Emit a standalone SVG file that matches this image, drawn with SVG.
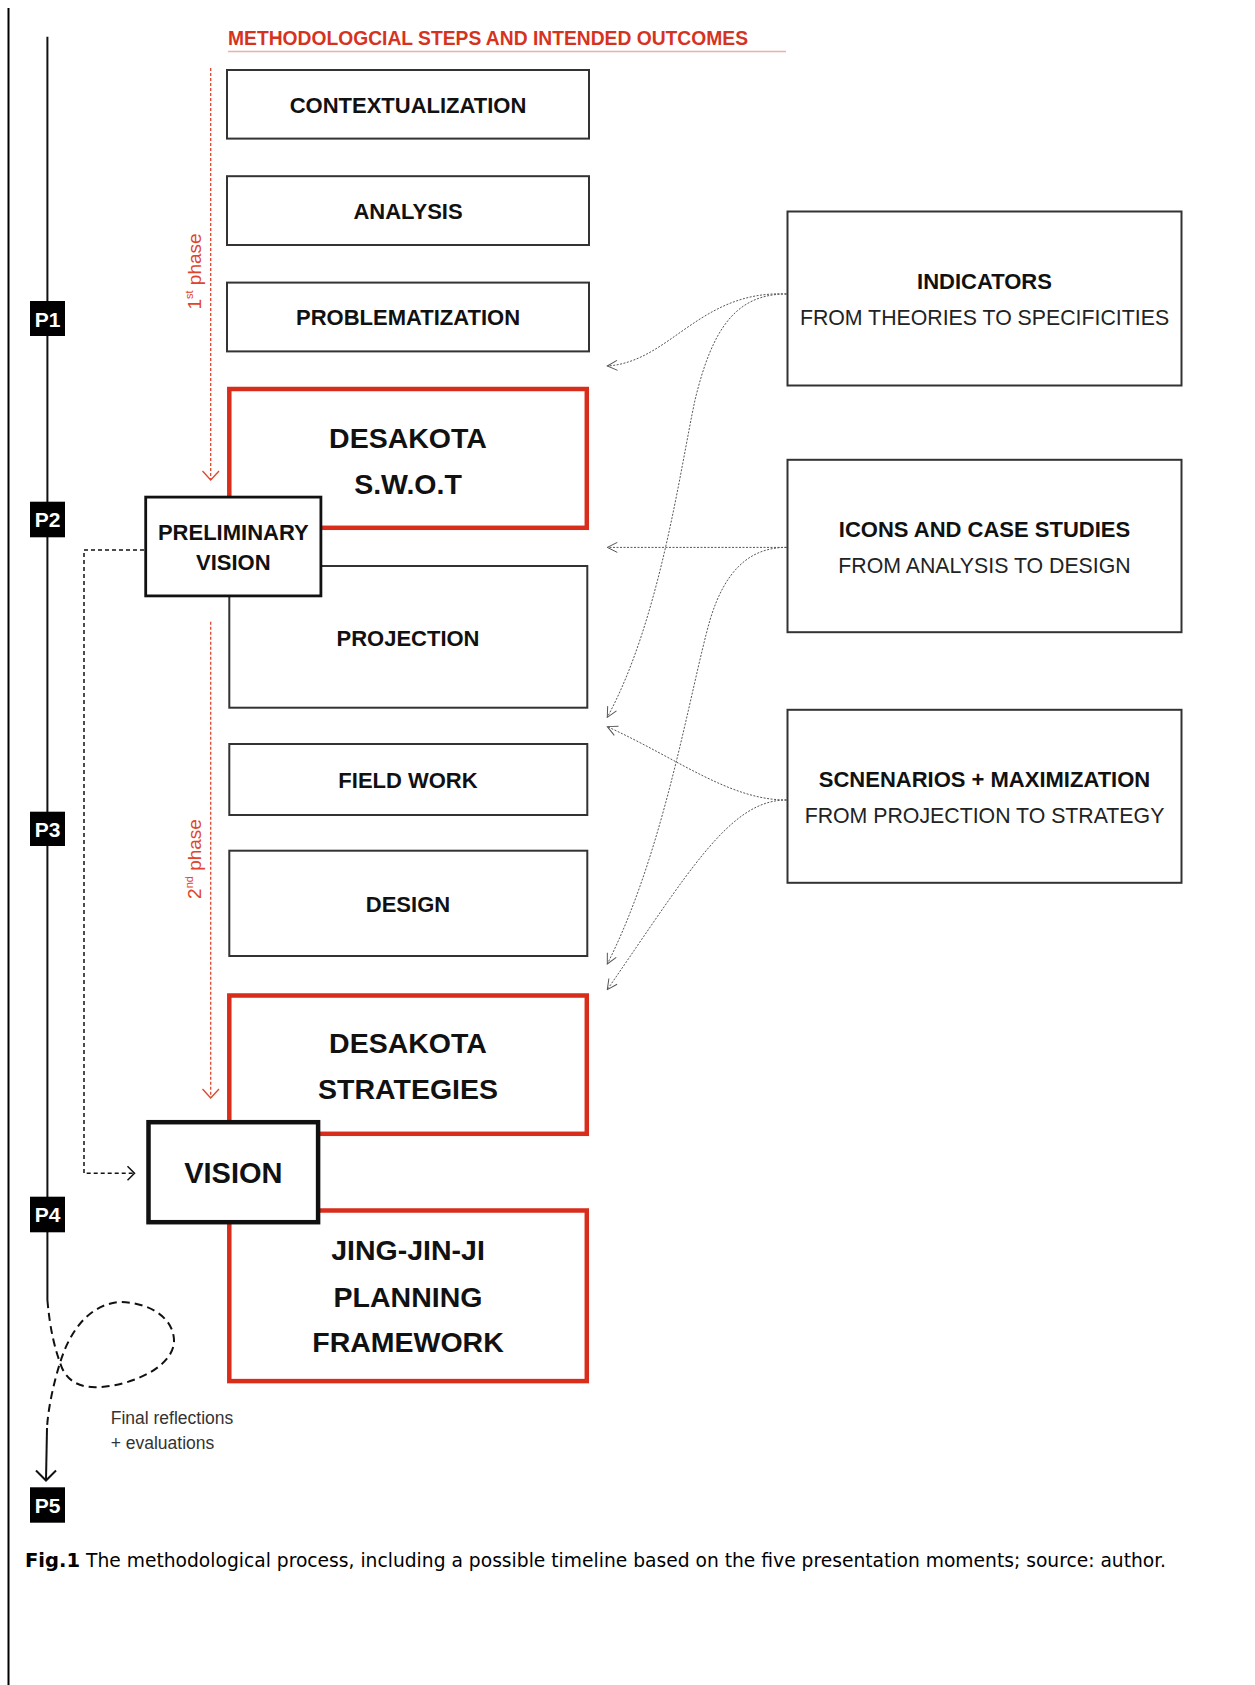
<svg xmlns="http://www.w3.org/2000/svg" width="1255" height="1685" viewBox="0 0 1255 1685">
<style>
.bx{fill:#fff;stroke:#333;stroke-width:2}
.rb{fill:#fff;stroke:#d92d1b;stroke-width:4.5}
.lt{font-family:"Liberation Sans",Arial,sans-serif;font-weight:bold;font-size:22px;fill:#111;text-anchor:middle}
.big{font-family:"Liberation Sans",Arial,sans-serif;font-weight:bold;font-size:28.5px;fill:#111;text-anchor:middle}
.rt{font-family:"Liberation Sans",Arial,sans-serif;font-weight:bold;font-size:22px;fill:#111;text-anchor:middle}
.rs{font-family:"Liberation Sans",Arial,sans-serif;font-size:21.3px;fill:#222;text-anchor:middle}
.pb{fill:#000}
.pt{font-family:"Liberation Sans",Arial,sans-serif;font-weight:bold;font-size:21px;fill:#fff;text-anchor:middle}
.ph{font-family:"Liberation Sans",Arial,sans-serif;font-size:19px;fill:#e0452b;text-anchor:middle}
.gc{fill:none;stroke:#555;stroke-width:1;stroke-dasharray:2 1.5}
.rd{fill:none;stroke:#e0452b;stroke-width:1.3;stroke-dasharray:3 2}
.kd{fill:none;stroke:#111;stroke-width:1.5;stroke-dasharray:4 3}
</style>
<defs>
<marker id="ga" viewBox="0 0 12 12" refX="11" refY="6" markerWidth="12" markerHeight="12" markerUnits="userSpaceOnUse" orient="auto">
<path d="M1,1 L11,6 L1,11" fill="none" stroke="#555" stroke-width="1"/>
</marker>
</defs>

<!-- page border -->
<line x1="8.5" y1="8" x2="8.5" y2="1685" stroke="#000" stroke-width="2"/>

<!-- title -->
<text x="228" y="45" font-family="'Liberation Sans',Arial,sans-serif" font-weight="bold" font-size="20" fill="#d6331f" textLength="520" lengthAdjust="spacingAndGlyphs">METHODOLOGCIAL STEPS AND INTENDED OUTCOMES</text>
<line x1="228" y1="51.5" x2="786" y2="51.5" stroke="#e9b1a8" stroke-width="1.5"/>

<!-- timeline -->
<g id="timeline">
<line x1="47.4" y1="36.7" x2="47.4" y2="1300" stroke="#111" stroke-width="2"/>
<path d="M47.4,1300 C50,1330 55,1350 62,1368 C70,1385 85,1388 100,1387 C135,1385 175,1365 174,1340 C173,1315 145,1302 120,1302 C90,1304 70,1330 60,1363 C53,1385 48,1410 47,1428" fill="none" stroke="#111" stroke-width="2" stroke-dasharray="8 5"/>
<line x1="47" y1="1428" x2="46" y2="1480" stroke="#111" stroke-width="2"/>
<path d="M36,1470.5 L46,1480.5 L56,1470.5" fill="none" stroke="#111" stroke-width="2"/>
</g>

<g id="P1"><rect class="pb" x="30" y="301" width="35" height="35"/><text class="pt" x="47.5" y="326.5">P1</text></g>
<g id="P2"><rect class="pb" x="30" y="501.7" width="35" height="35.6"/><text class="pt" x="47.5" y="527.3">P2</text></g>
<g id="P3"><rect class="pb" x="30" y="811.7" width="35" height="34.3"/><text class="pt" x="47.5" y="836.6">P3</text></g>
<g id="P4"><rect class="pb" x="30" y="1196.7" width="35" height="35.6"/><text class="pt" x="47.5" y="1222.3">P4</text></g>
<g id="P5"><rect class="pb" x="30" y="1487.3" width="35" height="35.4"/><text class="pt" x="47.5" y="1513">P5</text></g>

<!-- phase markers -->
<g id="phase1">
<line class="rd" x1="210.7" y1="68" x2="210.7" y2="480"/>
<path d="M202.5,471 L210.7,480 L219,471" fill="none" stroke="#e0452b" stroke-width="1.3"/>
<text class="ph" transform="translate(200.5,271.5) rotate(-90)">1<tspan font-size="11" dy="-8">st</tspan><tspan dy="8"> phase</tspan></text>
</g>
<g id="phase2">
<line class="rd" x1="210.7" y1="621.7" x2="210.7" y2="1098"/>
<path d="M202.5,1089 L210.7,1098 L219,1089" fill="none" stroke="#e0452b" stroke-width="1.3"/>
<text class="ph" transform="translate(200.5,859) rotate(-90)">2<tspan font-size="11" dy="-8">nd</tspan><tspan dy="8"> phase</tspan></text>
</g>

<!-- connectors -->
<g id="connectors">
<path class="kd" d="M144,550 H84 V1173.3 H134"/>
<path d="M127.5,1166.3 L134.5,1173.3 L127.5,1180.3" fill="none" stroke="#111" stroke-width="1.5"/>
<path class="gc" marker-end="url(#ga)" d="M786.5,294 C700,290 670,362 607.3,366"/>
<path class="gc" marker-end="url(#ga)" d="M786.5,294 C735,294 712,330 695,400 C680,470 660,620 607.3,717.3"/>
<path class="gc" marker-end="url(#ga)" d="M786.5,547.4 H607.3"/>
<path class="gc" marker-end="url(#ga)" d="M786.5,547.4 C750,547.4 725,570 710,620 C690,690 665,850 607.3,964"/>
<path class="gc" marker-end="url(#ga)" d="M786.5,800 C730,800 680,760 607.3,726.6"/>
<path class="gc" marker-end="url(#ga)" d="M786.5,800 C730,800 690,870 607.3,989.6"/>
</g>

<!-- left column -->
<g id="contextualization"><rect class="bx" x="227" y="70" width="362" height="68.6"/><text class="lt" x="408" y="112.7">CONTEXTUALIZATION</text></g>
<g id="analysis"><rect class="bx" x="227" y="176.2" width="362" height="68.8"/><text class="lt" x="408" y="218.8">ANALYSIS</text></g>
<g id="problematization"><rect class="bx" x="227" y="282.6" width="362" height="68.8"/><text class="lt" x="408" y="325.2">PROBLEMATIZATION</text></g>
<g id="swot"><rect class="rb" x="229.3" y="389" width="357.5" height="138.8"/><text class="big" x="408" y="448.3">DESAKOTA</text><text class="big" x="408" y="494.3">S.W.O.T</text></g>
<g id="projection"><rect class="bx" x="229.3" y="566" width="358" height="141.7"/><text class="lt" x="408" y="646">PROJECTION</text></g>
<g id="preliminary-vision"><rect x="145.7" y="497.1" width="175.2" height="98.8" fill="#fff" stroke="#111" stroke-width="2.8"/><text class="lt" x="233.3" y="540">PRELIMINARY</text><text class="lt" x="233.3" y="570">VISION</text></g>
<g id="field-work"><rect class="bx" x="229.3" y="744" width="358" height="71"/><text class="lt" x="408" y="788.3">FIELD WORK</text></g>
<g id="design"><rect class="bx" x="229.3" y="850.7" width="358" height="105.3"/><text class="lt" x="408" y="912.3">DESIGN</text></g>
<g id="strategies"><rect class="rb" x="229.3" y="995.5" width="357.5" height="138.3"/><text class="big" x="408" y="1053.3">DESAKOTA</text><text class="big" x="408" y="1099.3">STRATEGIES</text></g>
<g id="jing-jin-ji"><rect class="rb" x="229.3" y="1210.5" width="357.5" height="170.6"/><text class="big" x="408" y="1260">JING-JIN-JI</text><text class="big" x="408" y="1306.7">PLANNING</text><text class="big" x="408" y="1351.7">FRAMEWORK</text></g>
<g id="vision"><rect x="148.5" y="1122.2" width="169.6" height="100" fill="#fff" stroke="#111" stroke-width="4.5"/><text x="233.3" y="1183.3" font-family="'Liberation Sans',Arial,sans-serif" font-weight="bold" font-size="29" fill="#111" text-anchor="middle">VISION</text></g>

<!-- right column -->
<g id="indicators"><rect class="bx" x="787.5" y="211.5" width="394" height="174"/><text class="rt" x="984.5" y="289.3">INDICATORS</text><text class="rs" x="984.5" y="325">FROM THEORIES TO SPECIFICITIES</text></g>
<g id="icons"><rect class="bx" x="787.5" y="459.8" width="394" height="172.4"/><text class="rt" x="984.5" y="537">ICONS AND CASE STUDIES</text><text class="rs" x="984.5" y="572.5">FROM ANALYSIS TO DESIGN</text></g>
<g id="scenarios"><rect class="bx" x="787.5" y="709.8" width="394" height="173"/><text class="rt" x="984.5" y="786.7">SCNENARIOS + MAXIMIZATION</text><text class="rs" x="984.5" y="822.5">FROM PROJECTION TO STRATEGY</text></g>

<!-- final reflections -->
<g id="final-reflections">
<text x="110.7" y="1424" font-family="'Liberation Sans',Arial,sans-serif" font-size="17.5" fill="#333">Final reflections</text>
<text x="110.7" y="1449.3" font-family="'Liberation Sans',Arial,sans-serif" font-size="17.5" fill="#333">+ evaluations</text>
</g>

<!-- caption -->
<text x="25" y="1567" font-family="'DejaVu Sans Condensed','DejaVu Sans',sans-serif" font-size="19" font-weight="bold" fill="#000" textLength="55" lengthAdjust="spacingAndGlyphs">Fig.1</text>
<text x="86" y="1567" font-family="'DejaVu Sans Condensed','DejaVu Sans',sans-serif" font-size="19" fill="#000" textLength="1080" lengthAdjust="spacingAndGlyphs">The methodological process, including a possible timeline based on the five presentation moments; source: author.</text>
</svg>
